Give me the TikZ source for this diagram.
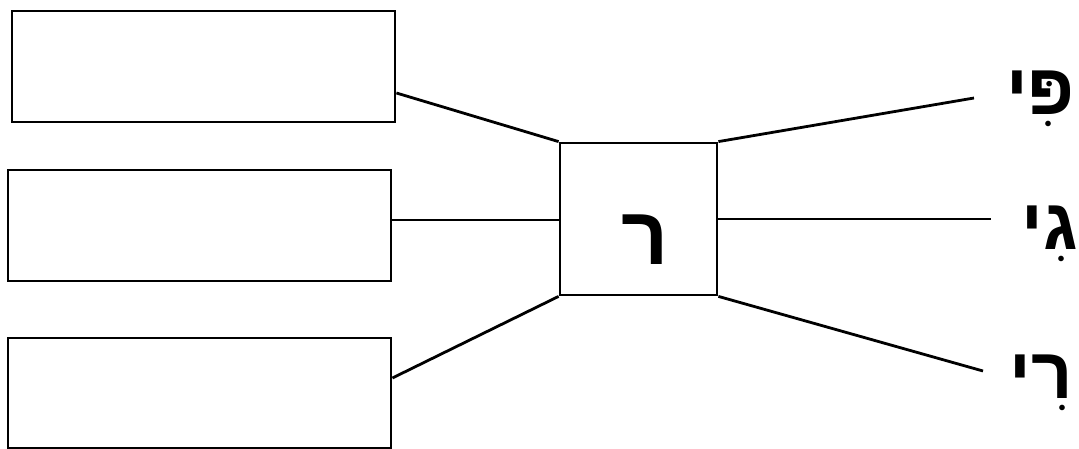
\documentclass[tikz,border=0pt]{standalone}
\usepackage{fontspec}
\TeXXeTstate=1
\newfontfamily\hebfont[Script=Hebrew]{Liberation Sans Bold}
\tikzset{
  box/.style={draw=black, line width=2.8pt, fill=white, inner sep=0pt},
  conn/.style={draw=black, line width=2.8pt},
  heblabel/.style={font=\hebfont\fontsize{72}{80}\selectfont, inner sep=0pt, anchor=base east},
}
\begin{document}
\begin{tikzpicture}[x=1pt,y=-1pt]
\useasboundingbox (0,0) rectangle (1079,449);
\node[box, minimum width=383pt, minimum height=111pt] (b1) at (203.5,66.5) {};
\node[box, minimum width=383pt, minimum height=111pt] (b2) at (199.5,225.5) {};
\node[box, minimum width=383pt, minimum height=110pt] (b3) at (199.5,393) {};
\node[box, minimum width=157pt, minimum height=152pt] (c) at (638.5,219) {};
\node[heblabel, font=\hebfont\fontsize{82}{90}\selectfont] (ct) at (669,265) {\beginR ר\endR};
\coordinate (e1) at (974,98);
\coordinate (e2) at (991,219);
\coordinate (e3) at (983,371);
\node[heblabel] (l1) at (1075,115) {\beginR פִּי\endR};
\node[heblabel] (l2) at (1078,250) {\beginR גִי\endR};
\node[heblabel] (l3) at (1073,398) {\beginR רִי\endR};
\draw[conn] (b1.east |- 0,93) -- (c.north west);
\draw[conn] (b2.east |- 0,220) -- (c.west |- 0,220);
\draw[conn] (b3.east |- 0,378) -- (c.south west);
\draw[conn] (c.north east) -- (e1);
\draw[conn] (c.east) -- (e2);
\draw[conn] (c.south east) -- (e3);
\end{tikzpicture}
\end{document}
